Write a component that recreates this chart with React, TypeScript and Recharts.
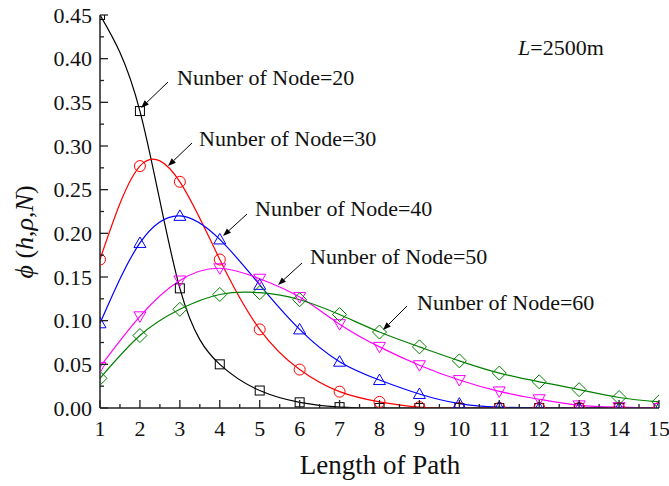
import { Line, LineChart, XAxis, YAxis } from 'recharts';

const pathLength = [1, 2, 3, 4, 5, 6, 7, 8, 9, 10, 11, 12, 13, 14, 15];
const node20 = [0.45, 0.34, 0.137, 0.05, 0.02, 0.0065, 0.001, 0, 0, 0, 0, 0, 0, 0, 0];
const node30 = [0.17, 0.277, 0.259, 0.17, 0.09, 0.044, 0.0187, 0.007, 0.001, 0, 0, 0, 0, 0, 0];
const node40 = [0.097, 0.189, 0.22, 0.193, 0.141, 0.09, 0.053, 0.032, 0.016, 0.005, 0.001, 0, 0, 0, 0];
const node50 = [0.047, 0.105, 0.146, 0.16, 0.148, 0.127, 0.096, 0.07, 0.049, 0.032, 0.019, 0.01, 0.003, 0.001, 0];
const node60 = [0.034, 0.083, 0.113, 0.13, 0.132, 0.124, 0.107, 0.087, 0.07, 0.054, 0.04, 0.03, 0.021, 0.012, 0.007];

const xTicks = [1, 1.5, 2, 2.5, 3, 3.5, 4, 4.5, 5, 5.5, 6, 6.5, 7, 7.5, 8, 8.5, 9, 9.5, 10, 10.5, 11, 11.5, 12, 12.5, 13, 13.5, 14, 14.5, 15];
const yTicks = [0, 0.025, 0.05, 0.075, 0.1, 0.125, 0.15, 0.175, 0.2, 0.225, 0.25, 0.275, 0.3, 0.325, 0.35, 0.375, 0.4, 0.425, 0.45];

const data = pathLength.map((x, i) => ({
  x,
  n20: node20[i],
  n30: node30[i],
  n40: node40[i],
  n50: node50[i],
  n60: node60[i],
}));

const FONT = '"Liberation Serif", "Times New Roman", serif';
const AXIS = '#222';
const textStyle = { fontFamily: FONT };

const isMajorX = (v: number) => Number.isInteger(v);
const isMajorY = (v: number) => Math.round(v * 1000) % 50 === 0;

function BottomTick({ x, y, payload }: any) {
  const v = payload.value;
  const major = isMajorX(v);
  return (
    <g>
      <line x1={x} x2={x} y1={y} y2={y - (major ? 8 : 4)} stroke={AXIS} strokeWidth={1.3} />
      {major && (
        <text x={x} y={y + 28} textAnchor="middle" fontSize={22} style={textStyle} fill="#111">
          {v}
        </text>
      )}
    </g>
  );
}

function TopTick({ x, y, payload }: any) {
  const major = isMajorX(payload.value);
  return <line x1={x} x2={x} y1={y} y2={y + (major ? 8 : 4)} stroke={AXIS} strokeWidth={1.3} />;
}

function LeftTick({ x, y, payload }: any) {
  const v = payload.value;
  const major = isMajorY(v);
  return (
    <g>
      <line x1={x} x2={x + (major ? 8 : 4)} y1={y} y2={y} stroke={AXIS} strokeWidth={1.3} />
      {major && (
        <text x={x - 8} y={y} dy="0.35em" textAnchor="end" fontSize={22} style={textStyle} fill="#111">
          {v.toFixed(2)}
        </text>
      )}
    </g>
  );
}

function RightTick({ x, y, payload }: any) {
  const major = isMajorY(payload.value);
  return <line x1={x} x2={x - (major ? 8 : 4)} y1={y} y2={y} stroke={AXIS} strokeWidth={1.3} />;
}

const markers: Record<string, (cx: number, cy: number, c: string) => any> = {
  square: (cx, cy, c) => <rect x={cx - 4.5} y={cy - 4.5} width={9} height={9} fill="none" stroke={c} />,
  circle: (cx, cy, c) => <circle cx={cx} cy={cy} r={5.5} fill="none" stroke={c} />,
  up: (cx, cy, c) => (
    <polygon points={`${cx},${cy - 6} ${cx + 6},${cy + 4.5} ${cx - 6},${cy + 4.5}`} fill="none" stroke={c} />
  ),
  down: (cx, cy, c) => (
    <polygon points={`${cx},${cy + 6} ${cx + 6},${cy - 4.5} ${cx - 6},${cy - 4.5}`} fill="none" stroke={c} />
  ),
  diamond: (cx, cy, c) => (
    <polygon points={`${cx},${cy - 7} ${cx + 7},${cy} ${cx},${cy + 7} ${cx - 7},${cy}`} fill="none" stroke={c} />
  ),
};

const series = [
  { key: 'n20', color: '#000000', marker: 'square' },
  { key: 'n30', color: '#ff0000', marker: 'circle' },
  { key: 'n40', color: '#0000ff', marker: 'up' },
  { key: 'n50', color: '#ff00ff', marker: 'down' },
  { key: 'n60', color: '#008000', marker: 'diamond' },
];

const notes = [
  { text: 'Nunber of Node=20', tx: 177, ty: 87, from: [168, 82], to: [141, 108] },
  { text: 'Nunber of Node=30', tx: 199, ty: 148, from: [192, 143], to: [168, 166] },
  { text: 'Nunber of Node=40', tx: 255, ty: 218, from: [247, 214], to: [223, 236] },
  { text: 'Nunber of Node=50', tx: 310, ty: 266, from: [302, 263], to: [278, 285] },
  { text: 'Nunber of Node=60', tx: 417, ty: 312, from: [407, 306], to: [383, 330] },
];

function Arrow({ from, to }: { from: number[]; to: number[] }) {
  const [x1, y1] = from;
  const [x2, y2] = to;
  const a = Math.atan2(y2 - y1, x2 - x1);
  const len = 8;
  const w = 3;
  const bx = x2 - len * Math.cos(a);
  const by = y2 - len * Math.sin(a);
  const px = -Math.sin(a) * w;
  const py = Math.cos(a) * w;
  return (
    <g>
      <line x1={x1} y1={y1} x2={bx} y2={by} stroke="#000" strokeWidth={1} />
      <polygon points={`${x2},${y2} ${bx + px},${by + py} ${bx - px},${by - py}`} fill="#000" />
    </g>
  );
}

// HTML label: top of line box placed so that the baseline lands on `base`
const htmlLabel = (left: number, base: number, size: number): any => ({
  position: 'absolute',
  left,
  top: base - size * 0.891,
  fontSize: size,
  lineHeight: 1,
  fontFamily: FONT,
  color: '#111',
  whiteSpace: 'nowrap',
  pointerEvents: 'none',
});

export default function App() {
  return (
    <div style={{ position: 'relative', width: 669, height: 486, background: '#fff' }}>
      <style>{'body{margin:0}'}</style>
      <LineChart width={669} height={486} data={data} margin={{ top: 15, right: 10, left: 0, bottom: 0 }}>
        <XAxis
          dataKey="x"
          type="number"
          domain={[1, 15]}
          ticks={xTicks}
          interval={0}
          allowDataOverflow
          height={78}
          tickSize={0}
          tickMargin={0}
          tick={BottomTick}
          axisLine={{ stroke: AXIS, strokeWidth: 1.5 }}
          tickLine={false}
        />
        <XAxis
          xAxisId="top"
          dataKey="x"
          orientation="top"
          type="number"
          domain={[1, 15]}
          ticks={xTicks}
          interval={0}
          allowDataOverflow
          height={0}
          tickSize={0}
          tickMargin={0}
          tick={TopTick}
          axisLine={{ stroke: AXIS, strokeWidth: 1.5 }}
          tickLine={false}
        />
        <YAxis
          type="number"
          domain={[0, 0.45]}
          ticks={yTicks}
          interval={0}
          allowDataOverflow
          width={100}
          tickSize={0}
          tickMargin={0}
          tick={LeftTick}
          axisLine={{ stroke: AXIS, strokeWidth: 1.5 }}
          tickLine={false}
        />
        <YAxis
          yAxisId="right"
          orientation="right"
          type="number"
          domain={[0, 0.45]}
          ticks={yTicks}
          interval={0}
          allowDataOverflow
          width={0}
          tickSize={0}
          tickMargin={0}
          tick={RightTick}
          axisLine={{ stroke: AXIS, strokeWidth: 1.5 }}
          tickLine={false}
        />
        {series.map((s) => (
          <Line
            key={s.key}
            dataKey={s.key}
            type="natural"
            stroke={s.color}
            strokeWidth={1.2}
            isAnimationActive={false}
            dot={(p: any) => <g key={`${s.key}-${p.index}`}>{markers[s.marker](p.cx, p.cy, s.color)}</g>}
            activeDot={false}
          />
        ))}
      </LineChart>
      <svg width={669} height={486} style={{ position: 'absolute', left: 0, top: 0, pointerEvents: 'none' }}>
        {notes.map((n) => (
          <Arrow key={n.text} from={n.from} to={n.to} />
        ))}
        <text
          transform="rotate(-90 33 232)"
          x={33}
          y={232}
          fontSize={26}
          textAnchor="middle"
          fill="#111"
          style={textStyle}
        >
          <tspan fontStyle="italic">ϕ</tspan> (<tspan fontStyle="italic">h</tspan>,
          <tspan fontStyle="italic">ρ</tspan>,<tspan fontStyle="italic">N</tspan>)
        </text>
      </svg>
      {notes.map((n) => (
        <div key={n.text} style={htmlLabel(n.tx, n.ty, 22)}>
          {n.text}
        </div>
      ))}
      <div style={htmlLabel(518, 57, 22)}>
        <i>L</i>=2500m
      </div>
      <div style={{ ...htmlLabel(0, 476, 27), width: 760, textAlign: 'center' }}>Length of Path</div>
    </div>
  );
}
